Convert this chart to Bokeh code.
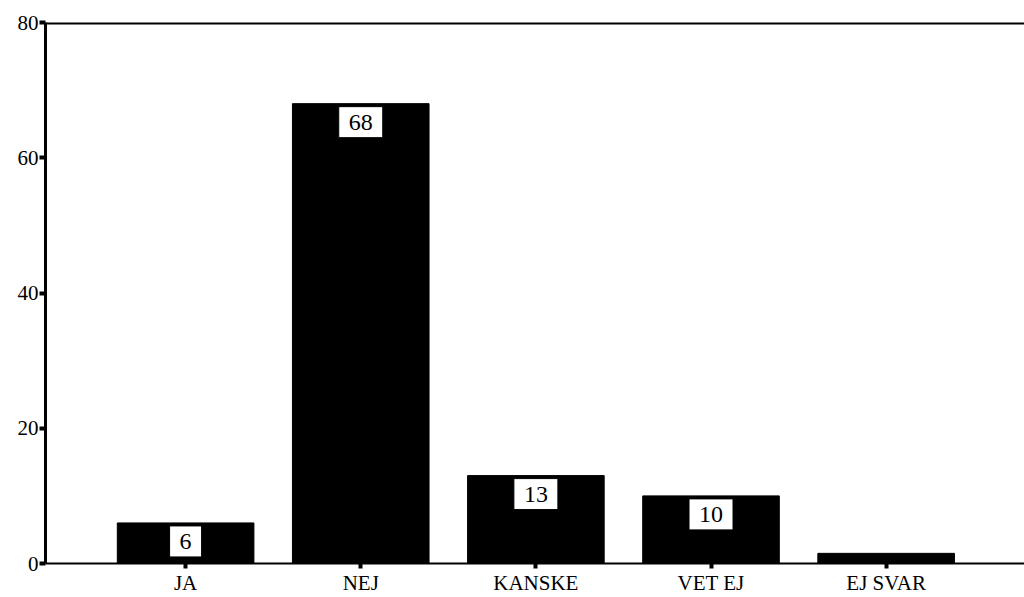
from bokeh.plotting import figure
from bokeh.models import ColumnDataSource, FixedTicker, Range1d, Span
from bokeh.core.properties import value
from bokeh.embed import file_html
from bokeh.resources import INLINE

categories = ["JA", "NEJ", "KANSKE", "VET EJ", "EJ SVAR"]
values = [6, 68, 13, 10, 1.5]
labels = ["6", "68", "13", "10", ""]
y_ticks = [0, 20, 40, 60, 80]

xs = list(range(len(categories)))
src = ColumnDataSource(dict(x=xs, top=values, cat=categories))
lab_src = ColumnDataSource(dict(x=xs[:4], top=values[:4], lab=labels[:4]))

FONT = "'Liberation Serif', 'Times New Roman', serif"

p = figure(width=1024, height=597, output_backend="svg", toolbar_location=None,
           x_range=Range1d(-0.8, 4.79), y_range=Range1d(0, 80),
           min_border_left=45, min_border_top=22, min_border_bottom=34, min_border_right=0)
p.outline_line_color = None
p.xgrid.visible = False
p.ygrid.visible = False
p.background_fill_color = "white"

p.vbar(x="x", top="top", width=0.78, source=src, fill_color="black", line_color="black")

p.text(x="x", y="top", text="lab", source=lab_src, text_align="center",
       text_baseline="top", y_offset=3, text_font=value(FONT), text_font_size="24px",
       text_color="black", background_fill_color="white",
       border_line_color="black", border_line_width=1, padding=(10, 8))

top_line = Span(location=80, dimension="width", line_color="black", line_width=4)
p.add_layout(top_line)

xa = p.xaxis[0]
xa.ticker = FixedTicker(ticks=xs)
xa.major_label_overrides = {i: c for i, c in zip(xs, categories)}
xa.minor_tick_line_color = None
xa.axis_line_width = 2
xa.major_tick_line_width = 4
xa.major_tick_out = 5
xa.major_tick_in = 0
xa.major_label_standoff = 2
xa.major_label_text_font = FONT
xa.major_label_text_font_size = "21px"
xa.major_label_text_color = "black"

ya = p.yaxis[0]
ya.ticker = FixedTicker(ticks=y_ticks)
ya.minor_tick_line_color = None
ya.axis_line_width = 3
ya.major_tick_line_width = 4
ya.major_tick_out = 6
ya.major_tick_in = 0
ya.major_label_standoff = 1
ya.major_label_text_font = FONT
ya.major_label_text_font_size = "21px"
ya.major_label_text_color = "black"

open("out.html", "w").write(file_html(p, INLINE))
